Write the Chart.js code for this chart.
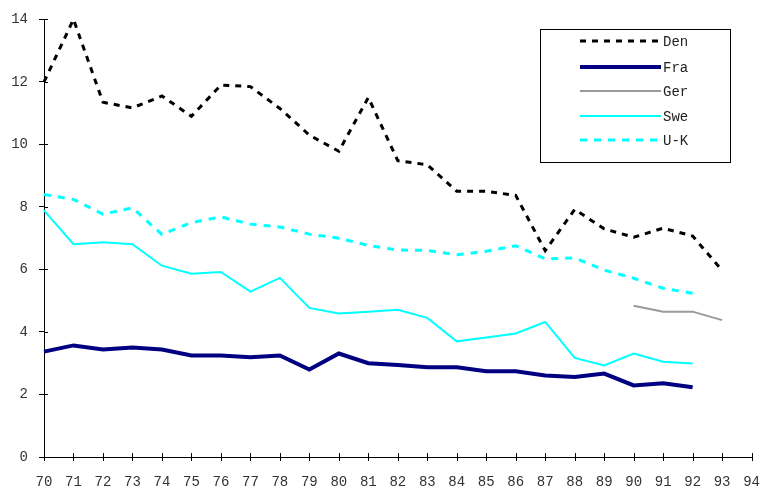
<!DOCTYPE html>
<html lang="en">
<head>
    <meta charset="UTF-8">
    <title>Den Fra Ger Swe U-K</title>
    <script src="https://cdn.jsdelivr.net/npm/chart.js"></script>
    <style>
        body {
            margin: 0;
            padding: 0;
            background: white;
        }
        #wrap {
            width: 760px;
            height: 488px;
        }
    </style>
</head>
<body>
    <div id="wrap"><canvas id="chart"></canvas></div>
    <script>
        // years 70..94
        let years = ["70","71","72","73","74","75","76","77","78","79","80","81","82","83","84","85","86","87","88","89","90","91","92","93","94"];

        let den = [12.0, 14.0, 11.35, 11.17, 11.55, 10.9, 11.9, 11.85, 11.15, 10.3, 9.78, 11.5, 9.48, 9.35, 8.5, 8.5, 8.37, 6.6, 7.92, 7.3, 7.03, 7.32, 7.07, 5.97, null];
        let fra = [3.37, 3.57, 3.44, 3.5, 3.44, 3.25, 3.25, 3.19, 3.25, 2.8, 3.31, 3.0, 2.94, 2.87, 2.87, 2.74, 2.74, 2.61, 2.56, 2.67, 2.29, 2.36, 2.23, null, null];
        let ger = [null, null, null, null, null, null, null, null, null, null, null, null, null, null, null, null, null, null, null, null, 4.84, 4.65, 4.65, 4.38, null];
        let swe = [7.89, 6.81, 6.87, 6.81, 6.12, 5.86, 5.92, 5.29, 5.73, 4.77, 4.59, 4.65, 4.71, 4.45, 3.7, 3.82, 3.95, 4.32, 3.17, 2.93, 3.31, 3.05, 2.99, null, null];
        let uk = [8.4, 8.24, 7.77, 7.97, 7.12, 7.5, 7.68, 7.45, 7.36, 7.13, 7.0, 6.77, 6.62, 6.61, 6.47, 6.58, 6.76, 6.34, 6.37, 5.98, 5.72, 5.4, 5.24, null, null];

        let seriesNames = ["Den", "Fra", "Ger", "Swe", "U-K"];
        let yTicks = [0, 2, 4, 6, 8, 10, 12, 14];

        const font = { family: "'Liberation Mono', 'DejaVu Sans Mono', monospace", size: 14 };

        // ticks that cross the axis line, and a boxed legend like the original
        const extras = {
            id: "extras",
            afterDraw(chart) {
                const ctx = chart.ctx;
                const x = chart.scales.x, y = chart.scales.y;
                ctx.save();
                ctx.strokeStyle = "#000";
                ctx.lineWidth = 1;
                ctx.beginPath();
                x.ticks.forEach((t, i) => {
                    const px = Math.round(x.getPixelForTick(i)) + 0.5;
                    ctx.moveTo(px, x.top - 4);
                    ctx.lineTo(px, x.top + 4);
                });
                y.ticks.forEach((t, i) => {
                    const py = Math.round(y.getPixelForTick(i)) + 0.5;
                    ctx.moveTo(y.right, py);
                    ctx.lineTo(y.right + 4, py);
                });
                ctx.stroke();

                // legend box
                ctx.strokeRect(540.5, 29.5, 190, 133);
                const rows = [41, 67, 91, 116, 140];
                chart.data.datasets.forEach((ds, i) => {
                    const ry = rows[i];
                    ctx.beginPath();
                    ctx.strokeStyle = ds.borderColor;
                    ctx.lineWidth = ds.borderWidth;
                    ctx.setLineDash(ds.borderDash || []);
                    ctx.lineCap = "butt";
                    ctx.moveTo(580, ry);
                    ctx.lineTo(661, ry);
                    ctx.stroke();
                    ctx.setLineDash([]);
                    ctx.fillStyle = "#222";
                    ctx.font = "14px " + font.family;
                    ctx.textBaseline = "middle";
                    ctx.fillText(ds.label, 663, ry + 1);
                });
                ctx.restore();
            }
        };

        new Chart(document.getElementById("chart"), {
            type: "line",
            data: {
                labels: years,
                datasets: [
                    { label: seriesNames[0], data: den, borderColor: "#000000", borderWidth: 3, borderDash: [6, 6] },
                    { label: seriesNames[1], data: fra, borderColor: "#000080", borderWidth: 4 },
                    { label: seriesNames[2], data: ger, borderColor: "#999999", borderWidth: 2 },
                    { label: seriesNames[3], data: swe, borderColor: "#00FFFF", borderWidth: 2 },
                    { label: seriesNames[4], data: uk, borderColor: "#00FFFF", borderWidth: 3, borderDash: [7, 7] }
                ]
            },
            options: {
                responsive: true,
                maintainAspectRatio: false,
                animation: false,
                layout: { padding: { top: 8, right: 0, left: 0, bottom: 0 } },
                elements: { point: { radius: 0 }, line: { tension: 0, fill: false } },
                plugins: { legend: { display: false }, tooltip: { enabled: false } },
                scales: {
                    x: {
                        offset: false,
                        grid: { drawOnChartArea: false, drawTicks: true, tickLength: 17, tickColor: "rgba(0,0,0,0)" },
                        border: { color: "#000", width: 1 },
                        ticks: { color: "#333", font: font, padding: 0, maxRotation: 0, autoSkip: false },
                        afterFit(s) { s.height = 31; }
                    },
                    y: {
                        min: 0,
                        max: 14,
                        grid: { drawOnChartArea: false, drawTicks: true, tickLength: 5, color: "#000" },
                        border: { color: "#000", width: 1 },
                        afterBuildTicks(s) { s.ticks = yTicks.map(v => ({ value: v })); },
                        ticks: { color: "#333", font: font, padding: 11 },
                        afterFit(s) { s.width = 44; }
                    }
                }
            },
            plugins: [extras]
        });
    </script>
</body>
</html>
